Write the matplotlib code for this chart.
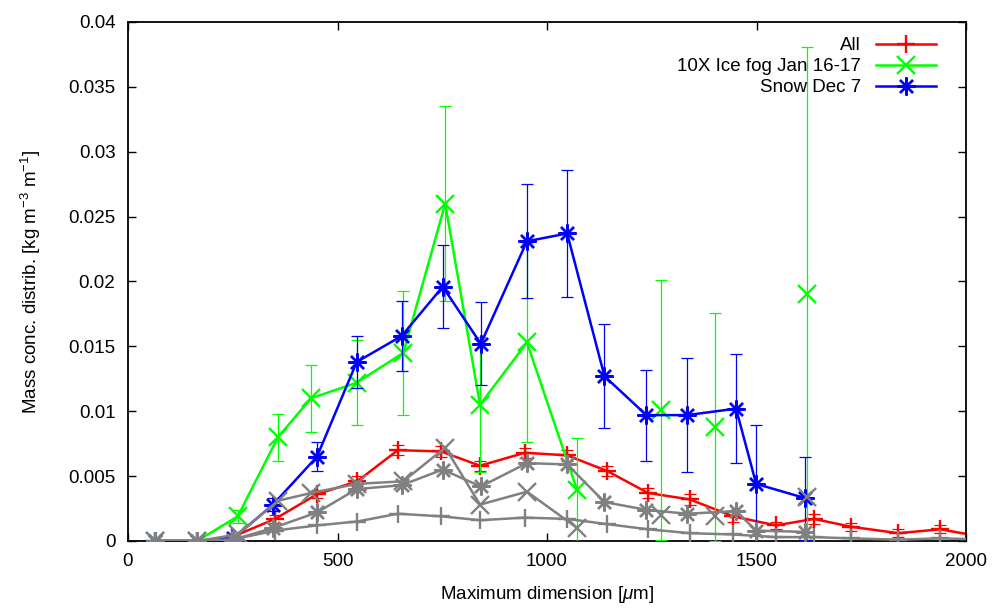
import numpy as np
import matplotlib
matplotlib.use("Agg")
import matplotlib.pyplot as plt
from matplotlib.lines import Line2D
from matplotlib.ticker import FuncFormatter, MultipleLocator

plt.rcParams['font.family'] = ['Liberation Sans', 'DejaVu Sans']
plt.rcParams['mathtext.fontset'] = 'custom'
plt.rcParams['mathtext.rm'] = 'Liberation Sans'
plt.rcParams['mathtext.it'] = 'Liberation Sans:italic'

nan = np.nan

# "All" (red) bins and the grey "+" series share these bins
x_all = [64, 165, 248, 351, 451, 547, 644, 747, 840, 947, 1048, 1143, 1241,
         1341, 1444, 1546, 1637, 1725, 1838, 1938, 2060]
y_all = [0, 0, 0.0003, 0.0017, 0.0036, 0.0046, 0.0070, 0.0069, 0.0058, 0.0068,
         0.0066, 0.0054, 0.0037, 0.0032, 0.0019, 0.0012, 0.0017, 0.0011,
         0.0006, 0.0009, 0.0002]
e_all = [0, 0, 0.0001, 0.0003, 0.0003, 0.0004, 0.0004, 0.0004, 0.0004, 0.0004,
         0.0004, 0.0004, 0.0004, 0.0004, 0.0004, 0.0003, 0.0004, 0.0003,
         0.0003, 0.0003, 0.0002]
y_grey_plus = [0, 0, 0.0001, 0.0008, 0.0012, 0.0015, 0.0021, 0.0019, 0.0016,
               0.0018, 0.0017, 0.0013, 0.0009, 0.0006, 0.0005, 0.0003, 0.0003,
               0.0002, 0.0001, 0.0002, 0.0001]

# "10X Ice fog Jan 16-17" (green) bins, nan = gap in the line
x_fog = [64, 165, 262, 358, 437, 546, 657, 757, 840, 952, 1072, 1170, 1272,
         1335, 1401, 1500, 1620]
y_fog = [0, 0, 0.0019, 0.0080, 0.0110, 0.0122, 0.0145, 0.0260, 0.0105, 0.0153,
         0.0039, nan, 0.0101, nan, 0.0088, nan, 0.0190]
e_fog = [0, 0, 0.0005, 0.0018, 0.0026, 0.0033, 0.0048, 0.0075, 0.0052, 0.0077,
         0.0040, nan, 0.0100, nan, 0.0088, nan, 0.0191]
y_grey_x = [0, 0, 0.0005, 0.0031, 0.0037, 0.0044, 0.0046, 0.0072, 0.0028,
            0.0038, 0.0010, nan, 0.0020, nan, 0.0019, nan, 0.0034]

# "Snow Dec 7" (blue) bins
x_snow = [64, 165, 251, 346, 451, 546, 653, 751, 842, 952, 1048, 1137, 1237,
          1334, 1451, 1499, 1616]
y_snow = [0, 0, 0.0002, 0.0028, 0.0065, 0.0138, 0.0158, 0.0196, 0.0152, 0.0231,
          0.0237, 0.0127, 0.0097, 0.0097, 0.0102, 0.0044, 0.0033]
e_snow = [0, 0, 0.0002, 0.0005, 0.0011, 0.0020, 0.0027, 0.0032, 0.0032, 0.0044,
          0.0049, 0.0040, 0.0035, 0.0044, 0.0042, 0.0045, 0.0032]
y_grey_star = [0, 0, 0.0001, 0.0010, 0.0022, 0.0040, 0.0043, 0.0055, 0.0042,
               0.0060, 0.0059, 0.0030, 0.0024, 0.0021, 0.0023, 0.0008, 0.0007]

star = (8, 2, 0)  # gnuplot-style asterisk
ms = 13
mew = 1.7
lw = 1.8

fig = plt.figure(figsize=(9.96, 6.09), dpi=100)
ax = fig.add_axes([0.1285, 0.1117, 0.8415, 0.8522])

def draw(x, y, e, color, marker, z):
    ax.errorbar(x, y, yerr=e, fmt='none', ecolor=color, elinewidth=0.9,
                capsize=4, capthick=0.9, zorder=z)
    ax.plot(x, y, color=color, lw=lw, marker=marker, ms=ms, mew=mew, zorder=z + 0.5)

draw(x_all, y_all, e_all, '#ff0000', '+', 2)
draw(x_fog, y_fog, e_fog, '#00ff00', 'x', 3)
draw(x_snow, y_snow, e_snow, '#0000ff', star, 4)

grey = '#808080'
ax.plot(x_all, y_grey_plus, color=grey, lw=lw, marker='+', ms=ms, mew=mew, zorder=6)
ax.plot(x_fog, y_grey_x, color=grey, lw=lw, marker='x', ms=ms, mew=mew, zorder=6)
ax.plot(x_snow, y_grey_star, color=grey, lw=lw, marker=star, ms=ms, mew=mew, zorder=6)

ax.set_xlim(0, 2000)
ax.set_ylim(0, 0.04)
ax.xaxis.set_major_locator(MultipleLocator(500))
ax.yaxis.set_major_locator(MultipleLocator(0.005))
ax.yaxis.set_major_formatter(FuncFormatter(lambda v, p: '%g' % round(v, 4)))
ax.tick_params(direction='in', length=6, width=1, labelsize=13.5,
               top=True, right=True, pad=9)
for s in ax.spines.values():
    s.set_linewidth(1.3)

ax.set_xlabel(r'Maximum dimension [$\mu$m]', fontsize=13.5, labelpad=10)
ax.set_ylabel(r'Mass conc. distrib. [kg m$^{-3}$ m$^{-1}$]', fontsize=13.5, labelpad=18)

handles = [
    Line2D([], [], color='#ff0000', lw=lw, marker='+', ms=ms, mew=mew),
    Line2D([], [], color='#00ff00', lw=lw, marker='x', ms=ms, mew=mew),
    Line2D([], [], color='#0000ff', lw=lw, marker=star, ms=ms, mew=mew),
]
labels = ['All', '10X Ice fog Jan 16-17', 'Snow Dec 7']
ax.legend(handles, labels, loc='upper right', bbox_to_anchor=(0.973, 0.985),
          frameon=False, markerfirst=False, fontsize=13.5, handlelength=3.2,
          handletextpad=0.8, labelspacing=0.2, borderaxespad=0)

fig.savefig('out.png', dpi=100)
